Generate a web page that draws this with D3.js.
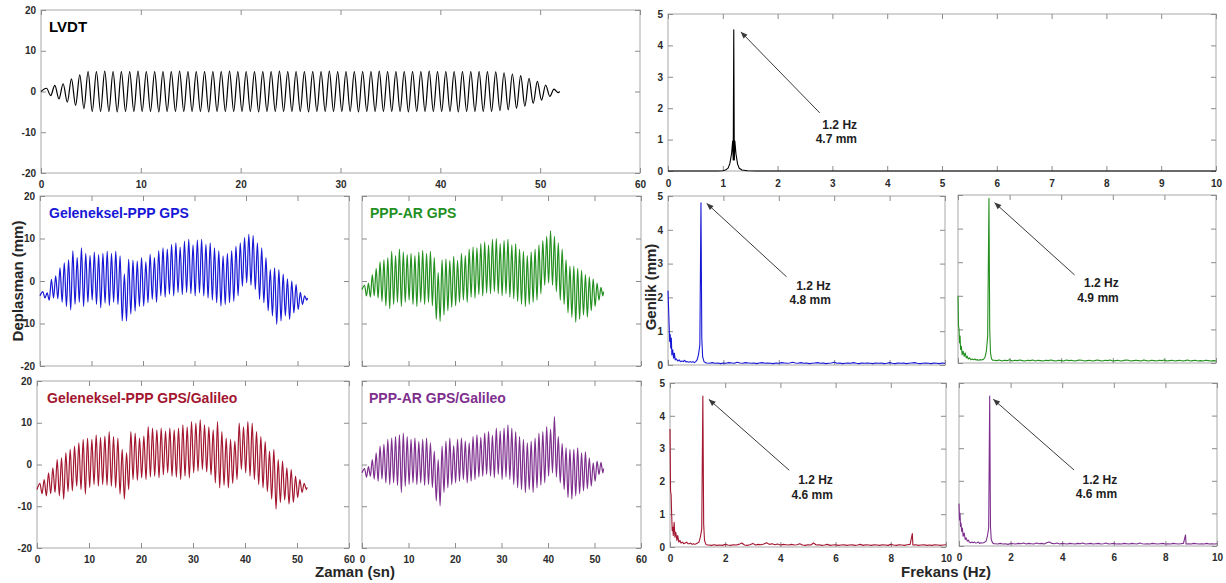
<!DOCTYPE html>
<html><head><meta charset="utf-8">
<script src="https://cdn.jsdelivr.net/npm/d3@7"></script>
<style>
body{margin:0;background:#fff;}
svg{display:block;font-family:"Liberation Sans",Arial,Helvetica,sans-serif;}
</style></head><body>
<svg id="chart" width="1226" height="583"></svg>
<script>
// ---------------- DATA ----------------
// Time series: oscillation at ~1.2 Hz; each series given as the value of every
// crest and trough (cycle k crest, then trough half a period later).
const excitationFreq = 1.2;      // Hz
const firstCrestTime = 0.55;     // s
const recordEnd = 51.95;         // s
const timeTicks = [0, 10, 20, 30, 40, 50, 60];
const dispTicks = [-20, -10, 0, 10, 20];

const lvdtStart = 0, lvdtEnd = 0;
const lvdtCrests = [0.8,1.5,1.9,3.1,4.1,4.9,4.9,5.0,4.9,4.9,
  4.9,5.0,4.9,4.9,4.9,4.9,5.0,4.9,4.9,4.9,
  4.9,4.9,5.0,4.9,4.9,4.9,4.9,4.9,5.0,4.9,
  4.9,4.9,4.9,4.9,5.0,4.9,4.9,4.9,4.9,4.9,
  5.0,4.9,4.9,4.9,4.9,4.9,5.0,4.9,4.9,4.9,
  4.9,4.9,4.9,4.9,4.8,4.6,4.3,3.9,3.2,2.5,
  1.6,0.6];
const lvdtTroughs = [-1.0,-1.8,-2.6,-3.4,-4.2,-4.9,-4.9,-4.9,-5.0,-4.9,
  -4.9,-4.9,-4.9,-5.0,-4.9,-4.9,-4.9,-4.9,-4.9,-5.0,
  -4.9,-4.9,-4.9,-4.9,-4.9,-5.0,-4.9,-4.9,-4.9,-4.9,
  -4.9,-5.0,-4.9,-4.9,-4.9,-4.9,-4.9,-5.0,-4.9,-4.9,
  -4.9,-4.9,-4.9,-5.0,-4.9,-4.9,-4.9,-4.9,-4.9,-5.0,
  -4.9,-4.9,-4.9,-4.9,-4.7,-4.5,-4.1,-3.6,-2.9,-2.1,
  -1.2,-0.3];

const pppGpsStart = -3.5, pppGpsEnd = -4.0;
const pppGpsCrests = [-2.5,-2.8,0.4,1.2,3.1,4.3,5.0,7.1,5.5,7.8,
  6.5,6.0,6.8,6.2,6.5,7.0,6.5,7.0,5.9,1.6,
  5.1,4.9,4.7,5.5,4.5,6.3,5.5,7.1,7.8,7.5,
  8.6,9.0,8.0,9.4,9.8,8.5,9.6,9.8,8.6,9.0,
  7.8,7.1,5.9,6.5,7.1,8.2,9.0,10.2,11.0,10.7,
  9.0,7.8,5.5,2.7,3.1,2.7,1.6,0.5,0.0,-0.8,
  -2.7,-3.5];
const pppGpsTroughs = [-4.0,-4.5,-4.0,-4.2,-5.0,-6.0,-6.8,-5.5,-5.0,-6.0,
  -5.0,-4.5,-5.5,-6.3,-5.2,-5.8,-5.0,-5.5,-9.4,-9.4,
  -7.8,-7.1,-6.0,-5.9,-5.1,-4.3,-5.0,-3.5,-3.8,-3.1,
  -3.5,-2.7,-3.2,-2.7,-3.0,-3.5,-2.8,-3.5,-4.0,-4.5,
  -5.1,-5.9,-5.5,-5.1,-4.8,-3.5,-1.2,-0.4,-1.0,-2.0,
  -4.3,-5.1,-7.0,-8.2,-10.2,-9.4,-8.2,-9.0,-7.5,-6.7,
  -5.5,-4.5];

const arGpsStart = -2.0, arGpsEnd = -2.5;
const arGpsCrests = [-1.0,-0.5,1.5,3.0,4.5,5.0,5.5,7.0,6.0,7.5,
  6.8,6.2,6.5,6.0,6.8,7.2,6.5,7.0,5.5,2.0,
  5.0,5.2,4.8,5.8,4.8,6.5,6.0,7.5,8.0,7.8,
  8.8,9.2,8.5,9.8,10.0,8.8,9.5,9.8,8.5,8.8,
  7.5,7.0,6.0,6.8,7.5,8.5,9.5,10.5,11.8,10.5,
  9.0,7.5,5.0,3.5,3.5,3.0,2.5,1.5,1.0,0.5,
  -0.5,-1.5];
const arGpsTroughs = [-3.5,-3.8,-3.5,-4.0,-4.8,-5.8,-6.5,-5.5,-5.0,-6.0,
  -5.0,-4.5,-5.5,-6.0,-5.0,-5.5,-5.0,-5.8,-9.0,-9.5,
  -8.0,-7.0,-6.2,-5.8,-5.0,-4.5,-5.0,-3.8,-4.0,-3.2,
  -3.5,-2.8,-3.0,-2.5,-3.0,-3.5,-3.0,-3.8,-4.2,-4.8,
  -5.5,-6.0,-5.5,-5.0,-4.5,-3.0,-1.0,-0.5,-1.0,-2.5,
  -4.5,-5.5,-7.5,-8.5,-9.7,-9.0,-8.0,-8.5,-7.0,-6.0,
  -4.5,-3.5];

const pppGalStart = -6.0, pppGalEnd = -5.5;
const pppGalCrests = [-4.5,-3.6,-2.0,-0.8,1.2,1.6,2.8,3.6,4.4,5.2,
  6.0,6.3,6.0,7.1,6.5,6.8,7.9,6.7,6.3,3.6,
  2.8,7.9,7.5,6.3,6.8,9.1,8.7,8.3,8.7,8.0,
  8.7,8.3,8.7,9.5,9.0,10.3,9.9,10.7,9.5,9.0,
  8.3,10.3,7.9,6.3,6.0,5.6,9.9,9.0,10.3,9.9,
  7.9,6.7,5.5,3.2,3.6,1.2,0.8,-0.8,-1.2,-2.8,
  -3.6,-4.5];
const pppGalTroughs = [-7.0,-7.5,-7.0,-6.7,-7.5,-8.3,-6.5,-6.3,-5.2,-6.0,
  -7.1,-5.5,-4.8,-5.2,-4.8,-5.0,-5.2,-5.6,-7.1,-8.3,
  -6.0,-3.6,-3.8,-3.2,-3.6,-3.0,-2.8,-3.2,-2.5,-2.0,
  -2.8,-3.0,-3.6,-2.8,-3.2,-2.0,-1.6,-1.2,-1.8,-2.5,
  -4.4,-5.6,-5.0,-5.6,-4.5,-3.6,-1.2,-2.0,-2.8,-3.6,
  -4.8,-5.6,-6.5,-8.3,-10.7,-9.1,-8.5,-9.5,-9.1,-7.9,
  -6.7,-6.0];

const arGalStart = -2.0, arGalEnd = -1.0;
const arGalCrests = [-1.0,-0.5,1.2,2.8,4.4,4.8,6.0,6.3,6.7,7.1,
  7.5,6.7,6.0,6.3,5.5,6.0,6.3,5.2,3.2,1.2,
  4.4,5.6,6.3,4.5,6.0,6.3,5.6,5.2,6.7,7.1,
  6.5,7.5,7.9,7.0,8.7,8.0,8.7,9.5,8.7,7.9,
  6.7,6.0,5.2,5.6,6.3,7.5,7.9,9.1,8.5,11.5,
  6.7,5.0,4.0,3.6,3.6,4.0,2.8,3.0,1.6,0.4,
  0.8,0.5];
const arGalTroughs = [-3.0,-2.8,-3.5,-4.0,-3.5,-4.4,-4.8,-4.4,-5.0,-6.7,
  -5.2,-4.8,-4.4,-4.8,-4.4,-5.0,-4.8,-5.5,-8.7,-9.9,
  -6.7,-5.6,-4.8,-4.4,-4.0,-3.6,-4.4,-4.0,-3.6,-3.0,
  -2.8,-2.4,-2.8,-3.2,-2.4,-3.6,-3.0,-3.6,-4.8,-5.6,
  -6.0,-6.7,-6.0,-6.7,-5.6,-5.0,-4.4,-2.8,-2.0,-3.0,
  -4.4,-6.0,-7.9,-8.3,-7.5,-7.0,-6.3,-5.8,-5.2,-4.0,
  -2.4,-2.0];

// Spectra: low-frequency part as [Hz, mm] pairs, noise floor every 0.1 Hz from 1.4 Hz.
const freqTicksTop = [0,1,2,3,4,5,6,7,8,9,10];
const freqTicks = [0,2,4,6,8,10];
const ampTicks = [0,1,2,3,4,5];
const floorStart = 1.4, floorStep = 0.1;

const lvdtSpec = [[0,0],[0.9,0],[1.0,0.01],[1.05,0.03],[1.1,0.1],[1.13,0.25],[1.16,0.55],[1.18,0.95],
  [1.19,0.35],[1.2,4.5],[1.21,0.35],[1.22,0.95],[1.24,0.55],[1.27,0.22],[1.3,0.09],[1.35,0.03],
  [1.45,0.01],[1.6,0],[10,0]];

const pppGpsSpecLow = [[0,2.2],[0.02,1.7],[0.04,1.2],[0.06,0.7],[0.08,0.9],[0.1,0.5],[0.12,0.8],[0.14,0.3],
  [0.17,0.45],[0.2,0.2],[0.23,0.35],[0.26,0.15],[0.3,0.18],[0.35,0.12],[0.4,0.15],[0.45,0.1],[0.5,0.12],
  [0.55,0.1],[0.6,0.14],[0.65,0.09],[0.7,0.1],[0.75,0.08],[0.8,0.1],[0.85,0.08],[0.9,0.1],[0.95,0.07],
  [1.0,0.1],[1.05,0.15],[1.1,0.3],[1.15,0.6],[1.19,4.8],[1.22,0.8],[1.25,0.25],[1.3,0.1],[1.35,0.07]];
const pppGpsFloor = [0.06,0.05,0.07,0.05,0.06,0.04,0.06,0.05,0.07,0.06,
  0.05,0.08,0.06,0.05,0.07,0.06,0.05,0.06,0.04,0.06,
  0.07,0.05,0.06,0.05,0.04,0.06,0.05,0.07,0.06,0.05,
  0.06,0.08,0.06,0.05,0.07,0.05,0.06,0.04,0.05,0.06,
  0.07,0.05,0.06,0.04,0.05,0.06,0.08,0.05,0.06,0.04,
  0.05,0.06,0.05,0.07,0.05,0.04,0.06,0.05,0.06,0.05,
  0.04,0.06,0.05,0.06,0.04,0.05,0.07,0.05,0.04,0.06,
  0.05,0.06,0.04,0.05,0.06,0.07,0.05,0.04,0.05,0.06,
  0.05,0.04,0.06,0.05,0.04,0.06,0.05];

const arGpsSpecLow = [[0,2.0],[0.02,1.1],[0.04,1.0],[0.06,0.6],[0.08,0.8],[0.1,0.4],[0.13,0.5],[0.16,0.25],
  [0.2,0.35],[0.24,0.2],[0.28,0.3],[0.32,0.15],[0.36,0.2],[0.4,0.12],[0.45,0.15],[0.5,0.1],[0.55,0.12],
  [0.6,0.1],[0.65,0.12],[0.7,0.09],[0.75,0.1],[0.8,0.08],[0.85,0.1],[0.9,0.09],[0.95,0.1],[1.0,0.12],
  [1.05,0.18],[1.1,0.35],[1.15,0.8],[1.2,4.9],[1.23,1.0],[1.26,0.3],[1.3,0.12],[1.35,0.08]];
const arGpsFloor = [0.08,0.07,0.09,0.06,0.08,0.07,0.10,0.06,0.08,0.07,
  0.09,0.07,0.06,0.08,0.07,0.09,0.06,0.08,0.07,0.06,
  0.08,0.07,0.09,0.07,0.06,0.08,0.07,0.06,0.09,0.07,
  0.08,0.06,0.07,0.09,0.08,0.06,0.07,0.08,0.06,0.07,
  0.09,0.07,0.06,0.08,0.07,0.09,0.06,0.07,0.08,0.06,
  0.07,0.09,0.08,0.06,0.07,0.08,0.07,0.06,0.09,0.07,
  0.06,0.08,0.07,0.06,0.08,0.07,0.09,0.06,0.07,0.08,
  0.06,0.07,0.08,0.06,0.07,0.09,0.06,0.07,0.08,0.06,
  0.07,0.06,0.08,0.07,0.06,0.07,0.06];

const pppGalSpecLow = [[0,3.6],[0.02,1.7],[0.04,1.6],[0.06,1.0],[0.08,0.5],[0.1,0.6],[0.12,0.35],[0.15,0.75],
  [0.18,0.3],[0.21,0.45],[0.25,0.2],[0.28,0.35],[0.32,0.15],[0.36,0.2],[0.4,0.12],[0.45,0.15],[0.5,0.1],
  [0.55,0.12],[0.6,0.15],[0.65,0.1],[0.7,0.1],[0.75,0.12],[0.8,0.08],[0.85,0.1],[0.9,0.08],[0.95,0.1],
  [1.0,0.12],[1.05,0.15],[1.1,0.3],[1.15,0.55],[1.19,4.6],[1.22,0.7],[1.25,0.2],[1.3,0.08],[1.35,0.06],
  [8.78,0.41]];
const pppGalFloor = [0.06,0.05,0.07,0.05,0.06,0.05,0.08,0.06,0.05,0.07,
  0.06,0.08,0.12,0.06,0.05,0.07,0.11,0.06,0.08,0.07,
  0.09,0.13,0.08,0.10,0.07,0.09,0.06,0.08,0.07,0.06,
  0.08,0.06,0.07,0.10,0.06,0.05,0.07,0.06,0.12,0.06,
  0.07,0.05,0.06,0.08,0.05,0.06,0.07,0.05,0.06,0.07,
  0.05,0.06,0.07,0.05,0.06,0.08,0.05,0.07,0.06,0.05,
  0.07,0.06,0.05,0.07,0.06,0.05,0.08,0.06,0.05,0.07,
  0.06,0.05,0.07,0.08,0.06,0.07,0.05,0.06,0.07,0.05,
  0.06,0.05,0.07,0.06,0.05,0.06,0.07];

const arGalSpecLow = [[0,1.3],[0.02,0.8],[0.04,1.0],[0.06,0.6],[0.08,0.7],[0.1,0.45],[0.13,0.55],[0.16,0.3],
  [0.2,0.4],[0.24,0.2],[0.28,0.25],[0.32,0.15],[0.36,0.18],[0.4,0.12],[0.45,0.1],[0.5,0.12],[0.55,0.1],
  [0.6,0.12],[0.65,0.09],[0.7,0.1],[0.75,0.12],[0.8,0.08],[0.85,0.1],[0.9,0.09],[0.95,0.1],[1.0,0.12],
  [1.05,0.15],[1.1,0.3],[1.15,0.55],[1.19,4.6],[1.22,0.6],[1.25,0.2],[1.3,0.1],[1.35,0.07],
  [8.78,0.34]];
const arGalFloor = [0.07,0.06,0.08,0.06,0.07,0.05,0.08,0.07,0.06,0.08,
  0.07,0.09,0.06,0.08,0.07,0.06,0.09,0.07,0.08,0.06,
  0.10,0.12,0.08,0.07,0.09,0.06,0.08,0.07,0.06,0.08,
  0.07,0.06,0.08,0.07,0.09,0.06,0.07,0.08,0.06,0.07,
  0.08,0.06,0.07,0.09,0.06,0.07,0.08,0.06,0.07,0.06,
  0.08,0.07,0.06,0.08,0.07,0.06,0.09,0.07,0.06,0.07,
  0.06,0.08,0.07,0.06,0.07,0.08,0.06,0.07,0.06,0.08,
  0.07,0.06,0.07,0.08,0.06,0.07,0.06,0.08,0.07,0.06,
  0.07,0.06,0.08,0.06,0.07,0.06,0.07];

const peakLabels = [["1.2 Hz","4.7 mm"],["1.2 Hz","4.8 mm"],["1.2 Hz","4.9 mm"],["1.2 Hz","4.6 mm"],["1.2 Hz","4.6 mm"]];

// ---------------- STYLE / LAYOUT ----------------
const FONT_LBL = '#2b2b2b', BOX = '#a8a8a8', TICK = '#8c8c8c';
const C_LVDT = '#000000', C_BLUE = '#1717d6', C_GREEN = '#23901f', C_RED = '#a3162f', C_PURPLE = '#7e2f8e';

const svg = d3.select('#chart');
svg.append('rect').attr('width',1226).attr('height',583).attr('fill','#fff');
const defs = svg.append('defs');
defs.append('marker').attr('id','arrowHead').attr('viewBox','0 0 10 10')
  .attr('refX',9.5).attr('refY',5).attr('markerWidth',8).attr('markerHeight',7)
  .attr('orient','auto').append('path').attr('d','M0,1 L10,5 L0,9 Z').attr('fill','#3a3a3a');

function panel(p, xDomain, yDomain, xTicks, yTicks) {
  const w = p.x1 - p.x0, h = p.y1 - p.y0;
  const g = svg.append('g').attr('transform', `translate(${p.x0},${p.y0})`);
  const x = d3.scaleLinear().domain(xDomain).range([0, w]);
  const y = d3.scaleLinear().domain(yDomain).range([h, 0]);
  g.append('rect').attr('width', w).attr('height', h).attr('fill', '#fff');
  const ax = g.append('g');
  ax.append('rect').attr('width', w).attr('height', h).attr('fill', 'none').attr('stroke', BOX).attr('stroke-width', 1);
  const fmt = d => String(d);
  const tk = 5;
  ax.append('g').attr('transform', `translate(0,${h})`)
    .call(d3.axisBottom(x).tickValues(xTicks).tickSize(-tk).tickSizeOuter(0).tickPadding(p.xPad).tickFormat(p.showX ? fmt : ''));
  ax.append('g').call(d3.axisTop(x).tickValues(xTicks).tickSize(-tk).tickSizeOuter(0).tickFormat(''));
  ax.append('g').call(d3.axisLeft(y).tickValues(yTicks).tickSize(-tk).tickSizeOuter(0).tickPadding(5).tickFormat(p.showY ? fmt : ''));
  ax.append('g').attr('transform', `translate(${w},0)`)
    .call(d3.axisRight(y).tickValues(yTicks).tickSize(-tk).tickSizeOuter(0).tickFormat(''));
  ax.selectAll('.domain').remove();
  ax.selectAll('.tick line').attr('stroke', TICK);
  ax.selectAll('.tick text').attr('fill', FONT_LBL).style('font-size', '10px').style('font-weight', 'bold').style('font-family', '"Liberation Sans",Arial,sans-serif');
  const plot = g.append('g');
  return { g, plot, x, y, w, h };
}

function wave(start, crests, troughs, end) {
  const period = 1 / excitationFreq;
  const pts = [[0, start]];
  crests.forEach((c, k) => {
    pts.push([firstCrestTime + k * period, c]);
    if (k < troughs.length) pts.push([firstCrestTime + (k + 0.5) * period, troughs[k]]);
  });
  pts.push([recordEnd, end]);
  return pts;
}

function spectrum(low, floor) {
  const pts = low.slice();
  floor.forEach((a, i) => pts.push([+(floorStart + i * floorStep).toFixed(2), a]));
  return pts.sort((a, b) => a[0] - b[0]);
}

// ---------------- TIME PANELS ----------------
const timePanels = [
  { x0: 41, x1: 640, y0: 10, y1: 173, showX: true, showY: true, xPad: 7.5, title: 'LVDT', color: C_LVDT, tsize: 15, tdx: 8, tdy: 22,
    data: wave(lvdtStart, lvdtCrests, lvdtTroughs, lvdtEnd) },
  { x0: 40, x1: 349, y0: 196, y1: 366, showX: false, showY: true, xPad: 7.5, title: 'Geleneksel-PPP GPS', color: C_BLUE, tsize: 14, tdx: 9, tdy: 22,
    data: wave(pppGpsStart, pppGpsCrests, pppGpsTroughs, pppGpsEnd) },
  { x0: 362, x1: 641, y0: 196, y1: 366, showX: false, showY: false, xPad: 7.5, title: 'PPP-AR GPS', color: C_GREEN, tsize: 14, tdx: 8, tdy: 22,
    data: wave(arGpsStart, arGpsCrests, arGpsTroughs, arGpsEnd) },
  { x0: 37, x1: 349, y0: 381, y1: 548, showX: true, showY: true, xPad: 7.5, title: 'Geleneksel-PPP GPS/Galileo', color: C_RED, tsize: 14, tdx: 10, tdy: 22,
    data: wave(pppGalStart, pppGalCrests, pppGalTroughs, pppGalEnd) },
  { x0: 362, x1: 641, y0: 381, y1: 548, showX: true, showY: false, xPad: 7.5, title: 'PPP-AR GPS/Galileo', color: C_PURPLE, tsize: 14, tdx: 7, tdy: 22,
    data: wave(arGalStart, arGalCrests, arGalTroughs, arGalEnd) }
];

timePanels.forEach(p => {
  const P = panel(p, [0, 60], [-20, 20], timeTicks, dispTicks);
  const line = d3.line().x(d => P.x(d[0])).y(d => P.y(d[1])).curve(d3.curveMonotoneX);
  P.plot.append('path').datum(p.data).attr('d', line).attr('fill', 'none')
    .attr('stroke', p.color).attr('stroke-width', 1.2).attr('stroke-linejoin', 'round');
  P.g.append('text').attr('x', p.tdx).attr('y', p.tdy).text(p.title)
    .attr('fill', p.color).style('font-size', p.tsize + 'px').style('font-weight', 'bold');
});

// ---------------- SPECTRUM PANELS ----------------
const specPanels = [
  { x0: 668, x1: 1216, y0: 14, y1: 171, showX: true, showY: true, xPad: 9, ticks: freqTicksTop, color: C_LVDT,
    data: lvdtSpec, ann: { tip: [1.33, 4.43], tail: [2.77, 1.85], text: [3.45, 1.34], lines: peakLabels[0] } },
  { x0: 668, x1: 945, y0: 196, y1: 365, showX: false, showY: true, xPad: 8, ticks: freqTicks, color: C_BLUE,
    data: spectrum(pppGpsSpecLow, pppGpsFloor), ann: { tip: [1.40, 4.78], tail: [4.28, 2.61], text: [5.88, 2.22], lines: peakLabels[1] } },
  { x0: 958, x1: 1216, y0: 195, y1: 363, showX: false, showY: false, xPad: 8, ticks: freqTicks, color: C_GREEN,
    data: spectrum(arGpsSpecLow, arGpsFloor), ann: { tip: [1.42, 4.77], tail: [4.52, 2.62], text: [6.23, 2.26], lines: peakLabels[2] } },
  { x0: 670, x1: 946, y0: 383, y1: 547, showX: true, showY: true, xPad: 8, ticks: freqTicks, color: C_RED,
    data: spectrum(pppGalSpecLow, pppGalFloor), ann: { tip: [1.41, 4.5], tail: [4.32, 2.34], text: [5.9, 1.91], lines: peakLabels[3] } },
  { x0: 959, x1: 1217, y0: 383, y1: 546, showX: true, showY: false, xPad: 8, ticks: freqTicks, color: C_PURPLE,
    data: spectrum(arGalSpecLow, arGalFloor), ann: { tip: [1.33, 4.5], tail: [4.46, 2.33], text: [6.13, 1.91], lines: peakLabels[4] } }
];

specPanels.forEach(p => {
  const P = panel(p, [0, 10], [0, 5], p.ticks, ampTicks);
  const line = d3.line().x(d => P.x(d[0])).y(d => P.y(d[1]));
  P.plot.append('path').datum(p.data).attr('d', line).attr('fill', 'none')
    .attr('stroke', p.color).attr('stroke-width', 1.1).attr('stroke-linejoin', 'round');
  const a = p.ann;
  P.g.append('line').attr('x1', P.x(a.tail[0])).attr('y1', P.y(a.tail[1]))
    .attr('x2', P.x(a.tip[0])).attr('y2', P.y(a.tip[1]))
    .attr('stroke', '#3a3a3a').attr('stroke-width', 1).attr('marker-end', 'url(#arrowHead)');
  const t = P.g.append('text').attr('text-anchor', 'end').attr('fill', '#1e1e1e')
    .style('font-size', '12px').style('font-weight', 'bold');
  a.lines.forEach((s, i) => {
    t.append('tspan').attr('x', P.x(a.text[0])).attr('y', P.y(a.text[1]) + i * 14.5).text(s);
  });
});

// ---------------- AXIS TITLES ----------------
const titleStyle = sel => sel.attr('fill', '#262626').style('font-size', '15px').style('font-weight', 'bold').attr('text-anchor', 'middle');
svg.append('text').attr('transform', 'translate(23,281) rotate(-90)').text('Deplasman (mm)').call(titleStyle);
svg.append('text').attr('transform', 'translate(656,287) rotate(-90)').text('Genlik (mm)').call(titleStyle);
svg.append('text').attr('x', 355).attr('y', 577).text('Zaman (sn)').call(titleStyle);
svg.append('text').attr('x', 946).attr('y', 577).text('Frekans (Hz)').call(titleStyle);
</script></body></html>
